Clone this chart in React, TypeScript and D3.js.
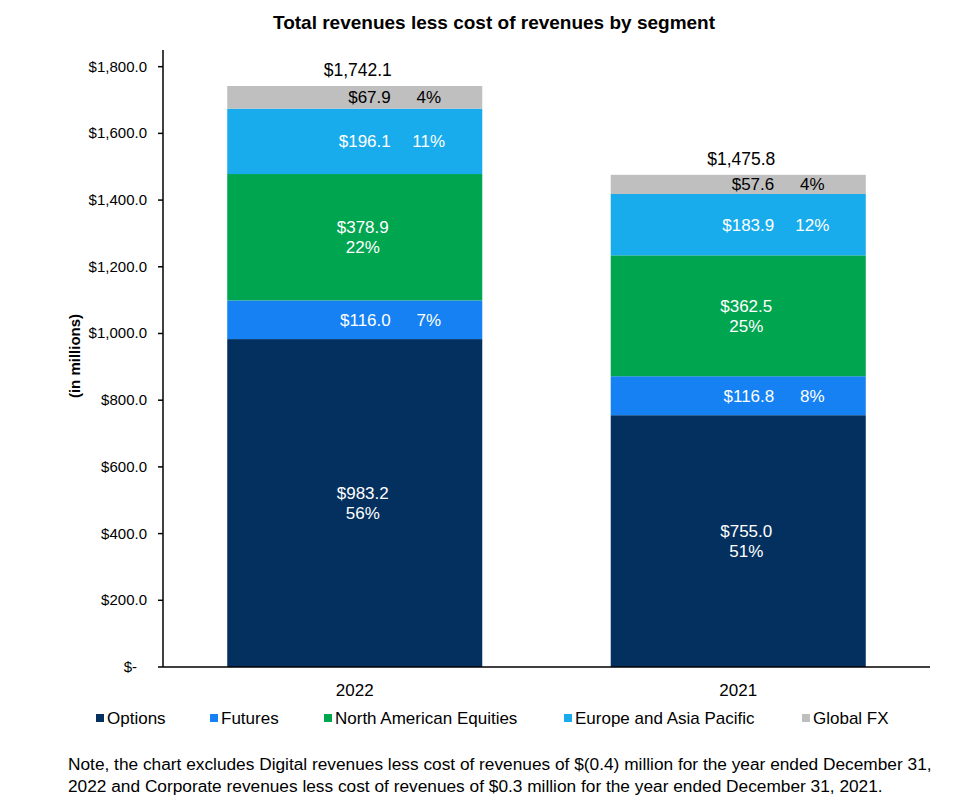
import React from "react";
import * as d3 from "d3";

const categories = ["2022", "2021"];
const seriesNames = ["Options", "Futures", "North American Equities", "Europe and Asia Pacific", "Global FX"];
const optionsValues = [983.2, 755.0];
const futuresValues = [116.0, 116.8];
const naEquitiesValues = [378.9, 362.5];
const europeAPValues = [196.1, 183.9];
const globalFXValues = [67.9, 57.6];
const optionsPct = [56, 51];
const futuresPct = [7, 8];
const naEquitiesPct = [22, 25];
const europeAPPct = [11, 12];
const globalFXPct = [4, 4];
const totals = [1742.1, 1475.8];
const yTicks = [0, 200, 400, 600, 800, 1000, 1200, 1400, 1600, 1800];
const colors = ["#03305E", "#1581F3", "#00A550", "#18ACEC", "#BFBFBF"];
const labelColors = ["#ffffff", "#ffffff", "#ffffff", "#ffffff", "#000000"];
const twoLine = [true, false, true, false, false];

const FONT = "'Liberation Sans', Arial, sans-serif";

export default function App() {
  const valuesBySeries = [optionsValues, futuresValues, naEquitiesValues, europeAPValues, globalFXValues];
  const pctBySeries = [optionsPct, futuresPct, naEquitiesPct, europeAPPct, globalFXPct];
  const rows = categories.map((c, i) => {
    const r: any = { cat: c };
    seriesNames.forEach((s, k) => (r[s] = valuesBySeries[k][i]));
    return r;
  });
  const stacked = d3.stack<any>().keys(seriesNames)(rows);

  const left = 163, right = 930, top = 50, bottom = 667;
  const x = d3.scaleBand<string>().domain(categories).range([left, right]).paddingInner(0.335).paddingOuter(0.1675);
  const y = d3.scaleLinear().domain([0, 1850]).range([bottom, top]);
  const bw = x.bandwidth();

  const fmtMoney = (v: number) => "$" + d3.format(",.1f")(v);
  const tickFmt = (v: number) => (v === 0 ? "$-" : "$" + d3.format(",.1f")(v));

  const legendX = [96, 210, 324, 564, 802];

  return (
    <svg width={971} height={800} style={{ position: "absolute", left: 0, top: 0, background: "#fff" }} fontFamily={FONT}>
      <rect width={971} height={800} fill="#fff" />
      <text x={494} y={29} textAnchor="middle" fontSize={19} fontWeight="bold" fill="#000">
        Total revenues less cost of revenues by segment
      </text>

      {/* bars */}
      {stacked.map((layer, k) =>
        layer.map((d, i) => (
          <rect key={`${k}-${i}`} x={x(categories[i])} y={y(d[1])} width={bw} height={y(d[0]) - y(d[1])} fill={colors[k]} />
        ))
      )}

      {/* segment labels */}
      {stacked.map((layer, k) =>
        layer.map((d, i) => {
          const cx = (x(categories[i]) as number) + bw / 2;
          const my = (y(d[0]) + y(d[1])) / 2;
          const v = valuesBySeries[k][i];
          const p = pctBySeries[k][i];
          if (twoLine[k]) {
            return (
              <g key={`l${k}-${i}`} fill={labelColors[k]} fontSize={17} textAnchor="middle">
                <text x={cx + 8} y={my - 4}>{fmtMoney(v)}</text>
                <text x={cx + 8} y={my + 16}>{p + "%"}</text>
              </g>
            );
          }
          return (
            <g key={`l${k}-${i}`} fill={labelColors[k]} fontSize={17}>
              <text x={cx + 36} y={my + 6} textAnchor="end">{fmtMoney(v)}</text>
              <text x={cx + 74} y={my + 6} textAnchor="middle">{p + "%"}</text>
            </g>
          );
        })
      )}

      {/* totals */}
      {categories.map((c, i) => (
        <text key={c} x={(x(c) as number) + bw / 2 + 3} y={y(totals[i]) - 10} textAnchor="middle" fontSize={17.5} fill="#000">
          {fmtMoney(totals[i])}
        </text>
      ))}

      {/* y axis */}
      <line x1={left} x2={left} y1={top} y2={bottom} stroke="#000" strokeWidth={1.5} />
      {yTicks.map((t) => (
        <g key={t}>
          <line x1={left - 5} x2={left} y1={y(t)} y2={y(t)} stroke="#000" strokeWidth={1.5} />
          <text x={t === 0 ? 137 : 147} y={y(t) + 5} textAnchor="end" fontSize={15} fill="#000">
            {tickFmt(t)}
          </text>
        </g>
      ))}
      {/* x axis */}
      <line x1={left} x2={right} y1={bottom} y2={bottom} stroke="#000" strokeWidth={1.5} />
      {categories.map((c) => (
        <text key={c} x={(x(c) as number) + bw / 2} y={696} textAnchor="middle" fontSize={17} fill="#000">
          {c}
        </text>
      ))}

      <text transform="translate(80,356) rotate(-90)" textAnchor="middle" fontSize={15} fontWeight="bold" fill="#000">
        (in millions)
      </text>

      {/* legend */}
      {seriesNames.map((s, k) => (
        <g key={s}>
          <rect x={legendX[k]} y={714} width={8} height={8} fill={colors[k]} />
          <text x={legendX[k] + 11} y={724} fontSize={17} fill="#000">{s}</text>
        </g>
      ))}

      {/* note */}
      <text x={68} y={770} fontSize={17.3} fill="#000">
        Note, the chart excludes Digital revenues less cost of revenues of $(0.4) million for the year ended December 31,
      </text>
      <text x={68} y={792} fontSize={17.3} fill="#000">
        2022 and Corporate revenues less cost of revenues of $0.3 million for the year ended December 31, 2021.
      </text>
    </svg>
  );
}
